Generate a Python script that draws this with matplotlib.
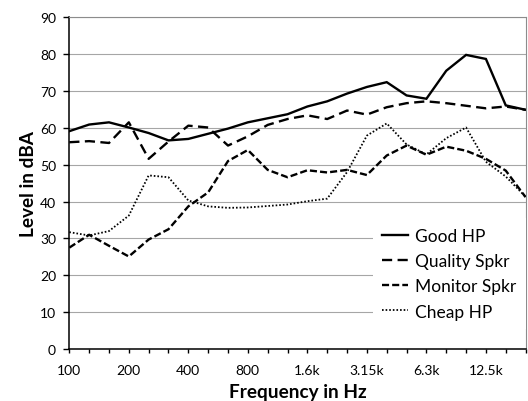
import matplotlib
matplotlib.use("Agg")
import matplotlib.pyplot as plt

plt.rcParams['font.family'] = ['Lato', 'DejaVu Sans']

freq_labels = ['100', '125', '160', '200', '250', '315', '400', '500', '630', '800',
               '1k', '1.25k', '1.6k', '2k', '2.5k', '3.15k', '4k', '5k', '6.3k', '8k',
               '10k', '12.5k', '16k', '20k']
shown_labels = ['100', '200', '400', '800', '1.6k', '3.15k', '6.3k', '12.5k']

good_hp = [59.1, 60.9, 61.5, 60.1, 58.6, 56.6, 57.0, 58.4, 59.8, 61.5, 62.6, 63.7,
           65.8, 67.2, 69.3, 71.1, 72.4, 68.8, 67.9, 75.5, 79.8, 78.7, 66.1, 64.9]
quality_spkr = [56.1, 56.4, 55.9, 61.5, 51.6, 56.3, 60.6, 60.1, 55.2, 57.7, 60.8, 62.4,
                63.4, 62.4, 64.7, 63.6, 65.6, 66.7, 67.2, 66.7, 66.0, 65.3, 65.8, 64.9]
monitor_spkr = [27.5, 31.0, 28.0, 25.1, 29.7, 32.5, 38.7, 42.5, 51.0, 54.0, 48.6, 46.6,
                48.5, 47.9, 48.6, 47.2, 52.5, 55.2, 52.7, 54.9, 53.8, 51.6, 48.4, 41.2]
cheap_hp = [31.7, 30.8, 32.0, 36.2, 47.1, 46.6, 40.3, 38.7, 38.3, 38.4, 38.8, 39.2,
            40.1, 40.8, 48.0, 57.9, 61.2, 55.5, 52.8, 57.2, 60.1, 50.8, 46.8, 41.3]

series_names = ['Good HP', 'Quality Spkr', 'Monitor Spkr', 'Cheap HP']

fig = plt.figure(figsize=(5.28, 4.02), dpi=100)
ax = fig.add_axes([69.3 / 528, 52 / 402, (525.6 - 69.3) / 528, (350 - 18.3) / 402])

x = list(range(len(freq_labels)))
lw = 1.7
ax.plot(x, good_hp, color='black', lw=lw, solid_joinstyle='miter', label=series_names[0])
ax.plot(x, quality_spkr, color='black', lw=lw, dashes=(4.3, 2.3), label=series_names[1])
ax.plot(x, monitor_spkr, color='black', lw=lw, dashes=(3.0, 1.3), label=series_names[2])
ax.plot(x, cheap_hp, color='black', lw=1.3, dashes=(0.9, 1.1), label=series_names[3])

ax.set_xlim(0, len(freq_labels) - 1)
ax.set_ylim(0, 90)
ax.set_yticks(range(0, 91, 10))
ax.set_xticks(x)
ax.set_xticklabels([lab if lab in shown_labels else '' for lab in freq_labels])

ax.yaxis.grid(True, color='#a6a6a6', lw=0.8)
ax.set_axisbelow(True)
for s in ['top', 'right']:
    ax.spines[s].set_color('#8c8c8c')
    ax.spines[s].set_linewidth(0.8)
for s in ['left', 'bottom']:
    ax.spines[s].set_color('black')
    ax.spines[s].set_linewidth(1.1)

ax.tick_params(axis='y', length=4, width=1.0, pad=5.5, labelsize=10, colors='black')
ax.tick_params(axis='x', length=3, width=1.0, pad=8, labelsize=10, colors='black')

ax.set_xlabel('Frequency in Hz', fontsize=13.7, fontweight='bold', labelpad=5)
ax.set_ylabel('Level in dBA', fontsize=13.7, fontweight='bold', labelpad=2)

leg = ax.legend(loc='lower right', bbox_to_anchor=(1.0, 0.06), fontsize=12.5,
                frameon=True, facecolor='white', edgecolor='none', framealpha=1,
                fancybox=False, handlelength=1.5, handletextpad=0.38,
                labelspacing=0.53, borderpad=0.55, borderaxespad=0)

fig.savefig('out.png', dpi=100)
